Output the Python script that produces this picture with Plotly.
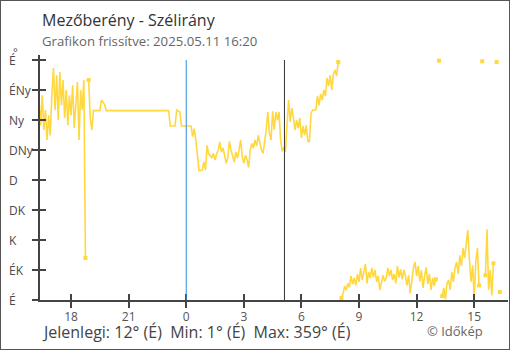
import pandas as pd
import plotly.graph_objects as go

# --- data -------------------------------------------------------------
STATION = "Mezőberény"
UPDATED = "2025.05.11 16:20"

# 5-minute readings from 2025-05-10 16:20 to 2025-05-11 16:20 (degrees, None = no reading)
times = pd.date_range("2025-05-10 16:20", "2025-05-11 16:20", freq="5min")
direction = [
    300, 262, 307, 255, 285, 240, 277, 247, 307, 348,
    285, 337, 270, 342, 292, 330, 273, 315, 262, 307,
    277, 322, 258, 300, 327, 240, 315, 285, 330, 63,
    None, 330, 273, 255, 284, 284, 284, 284, 284, 300,
    297, 293, 284, 284, 284, 284, 284, 284, 284, 284,
    284, 284, 284, 284, 284, 284, 284, 284, 284, 284,
    284, 284, 284, 284, 284, 284, 284, 284, 284, 284,
    284, 284, 284, 284, 284, 284, 284, 284, 284, 284,
    284, 284, 261, 261, 261, 261, 285, 284, 282, 261,
    261, 261, 261, 261, 261, 261, 245, 257, 240, 218,
    194, 194, 195, 207, 195, 232, 219, 217, 213, 220,
    210, 219, 225, 237, 222, 228, 217, 205, 214, 238,
    225, 217, 207, 222, 213, 225, 240, 216, 205, 217,
    210, 199, 225, 235, 228, 240, 231, 247, 234, 225,
    220, 237, 255, 282, 250, 240, 283, 255, 282, 270,
    282, 240, 223, 229, 222, 262, 300, 267, 288, 273,
    255, 270, 258, 273, 243, 261, 247, 262, 238, 238,
    280, 285, 285, 285, 306, 292, 309, 300, 315, 306,
    333, 321, 337, 315, 339, 345, 336, 357, None, 3,
    9, 21, 15, 25, 19, 36, 24, 33, 22, 39,
    27, 48, 30, 42, 54, 25, 42, 33, 48, 34,
    45, 27, 36, 15, 25, 37, 28, 33, 48, 36,
    45, 30, 39, 25, 51, 34, 46, 31, 45, 36,
    22, 37, 10, 31, 48, 57, 36, 51, 28, 45,
    18, 36, 49, 24, 39, 15, 33, 21, 31, None,
    359, None, 6, 18, 1, 25, 30, 15, 42, 27,
    48, 57, 39, 67, 51, 78, 63, 90, 105, 60,
    27, 52, 3, 57, 78, 22, None, 358, None, 37,
    106, 15, 45, 7, 55, None, 357, None, 12,
]

compass_deg = [0, 45, 90, 135, 180, 225, 270, 315, 360]
compass_lbl = ["É", "ÉK", "K", "DK", "D", "DNy", "Ny", "ÉNy", "É"]

midnight = "2025-05-11 00:00"
sunrise = "2025-05-11 05:07"

x_range = ["2025-05-10 16:23", "2025-05-11 16:45:36"]
y_range = [0, 367.5]

# --- styling ----------------------------------------------------------
FONT = "Open Sans"
YELLOW = "#ffd83f"
AXIS = "#444444"
TICKTXT = "#555555"


def compass(deg):
    return compass_lbl[int(((deg % 360) + 22.5) // 45) % 8]


# readings that sit next to a missing one get a small square
n = len(direction)
edge_idx = [
    i for i, v in enumerate(direction)
    if v is not None and ((i > 0 and direction[i - 1] is None) or (i < n - 1 and direction[i + 1] is None))
]

fig = go.Figure()
fig.add_trace(go.Scatter(
    x=times, y=direction, mode="lines", connectgaps=False,
    line=dict(color=YELLOW, width=1.6),
    hoverinfo="skip", showlegend=False,
))
fig.add_trace(go.Scatter(
    x=[times[i] for i in edge_idx], y=[direction[i] for i in edge_idx],
    mode="markers", marker=dict(symbol="square", size=4, color=YELLOW, line=dict(width=0)),
    hoverinfo="skip", showlegend=False,
))
# empty trace carrying the overlay axes (inner half of the tick marks)
fig.add_trace(go.Scatter(x=[], y=[], xaxis="x2", yaxis="y2", showlegend=False, hoverinfo="skip"))

tick_common = dict(type="date", range=x_range, tick0="2025-05-10 18:00", dtick=3 * 3600 * 1000)

fig.update_layout(
    width=510, height=350,
    margin=dict(l=40, r=2, t=55, b=50),
    paper_bgcolor="white", plot_bgcolor="white",
    font=dict(family=FONT, color=TICKTXT, size=12),
    xaxis=dict(
        **tick_common, tickformat="%-H",
        showgrid=False, zeroline=False,
        showline=True, linecolor=AXIS, linewidth=2,
        ticks="outside", ticklen=6, tickwidth=1.5, tickcolor=AXIS,
        ticklabelstandoff=-1,
        tickfont=dict(family=FONT, size=12, color=TICKTXT),
    ),
    yaxis=dict(
        range=y_range, tickvals=compass_deg, showticklabels=False,
        showgrid=False, zeroline=False,
        showline=True, linecolor=AXIS, linewidth=2,
        ticks="outside", ticklen=6, tickwidth=1.5, tickcolor=AXIS,
    ),
    xaxis2=dict(
        **tick_common, overlaying="x", anchor="y", showticklabels=False,
        showgrid=False, zeroline=False, showline=False,
        ticks="inside", ticklen=6, tickwidth=1.5, tickcolor=AXIS,
    ),
    yaxis2=dict(
        range=y_range, tickvals=compass_deg, overlaying="y", anchor="x",
        showticklabels=False, showgrid=False, zeroline=False, showline=False,
        ticks="inside", ticklen=6, tickwidth=1.5, tickcolor=AXIS,
    ),
)

# midnight and sunrise markers
fig.add_shape(type="line", xref="x", yref="y", x0=midnight, x1=midnight, y0=0, y1=360,
              line=dict(color="#2a8fdb", width=1))
fig.add_shape(type="line", xref="x", yref="y", x0=sunrise, x1=sunrise, y0=0, y1=360,
              line=dict(color="#333333", width=1))

# frame around the whole graphic
fig.add_shape(type="rect", xref="paper", yref="paper",
              x0=-40 / 468, x1=470 / 468, y0=-50 / 245, y1=300 / 245,
              line=dict(color="#555555", width=2), fillcolor="rgba(0,0,0,0)")

# compass labels on the left, left aligned
for d, lbl in zip(compass_deg, compass_lbl):
    fig.add_annotation(x=-33 / 468, xref="paper", y=d, yref="y", text=lbl, showarrow=False,
                       xanchor="left", yanchor="middle",
                       font=dict(family=FONT, size=12, color="#4a4a4a"))
fig.add_annotation(x=-29 / 468, xref="paper", y=(300 - 51.5) / 245, yref="paper", text="°",
                   showarrow=False, xanchor="left", yanchor="middle",
                   font=dict(family=FONT, size=11, color="#4a4a4a"))

# title block
fig.add_annotation(x=0, xref="paper", y=(300 - 19.5) / 245, yref="paper",
                   text=f"{STATION} - Szélirány", showarrow=False, xanchor="left", yanchor="middle",
                   font=dict(family=FONT, size=16, color="#333333"))
fig.add_annotation(x=0, xref="paper", y=(300 - 41.2) / 245, yref="paper",
                   text=f"Grafikon frissítve: {UPDATED}", showarrow=False, xanchor="left", yanchor="middle",
                   font=dict(family=FONT, size=13.2, color="#666666"))

# summary line
vals = [v for v in direction if v is not None]
cur, lo, hi = direction[-1], min(vals), max(vals)
sp = "\u00a0\u00a0"
summary = (f"Jelenlegi: {cur}° ({compass(cur)}){sp}Min: {lo}° ({compass(lo)}){sp}"
           f"Max: {hi}° ({compass(hi)})")
fig.add_annotation(x=0, xref="paper", y=(300 - 331.7) / 245, yref="paper", text=summary,
                   showarrow=False, xanchor="left", yanchor="middle",
                   font=dict(family=FONT, size=16, color="#444444"))
fig.add_annotation(x=(425 - 40) / 468, xref="paper", y=(300 - 331.4) / 245, yref="paper",
                   text="© Időkép", showarrow=False, xanchor="left", yanchor="middle",
                   font=dict(family=FONT, size=13, color="#666666"))

fig.write_html("out.html")
